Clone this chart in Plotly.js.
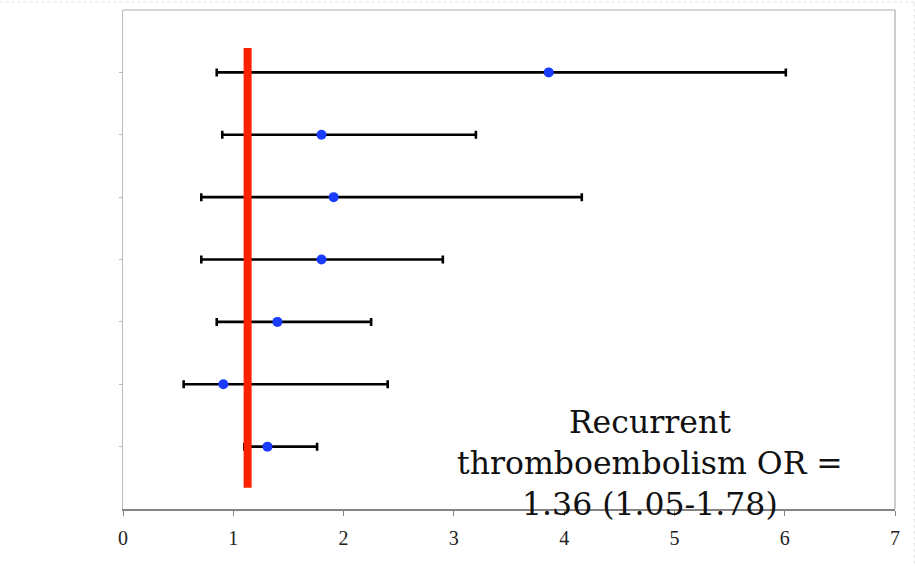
<!DOCTYPE html>
<html>
<head>
<meta charset="utf-8">
<script src="https://cdn.plot.ly/plotly-3.0.1.min.js"></script>
<style>html,body{margin:0;padding:0;background:#fff;}#chart{width:915px;height:566px;}</style>
</head>
<body>
<div id="chart"></div>
<script>
// Study rows, top to bottom
const rows = [1, 2, 3, 4, 5, 6, 7];
const oddsRatio = [3.86, 1.80, 1.91, 1.80, 1.40, 0.91, 1.31];
const ciLow = [0.85, 0.90, 0.71, 0.71, 0.85, 0.55, 1.10];
const ciHigh = [6.01, 3.20, 4.16, 2.90, 2.25, 2.40, 1.76];

// Red reference line
const refLineX = [1.13, 1.13];
const refLineY = [0.61, 7.66];

const xTicks = [0, 1, 2, 3, 4, 5, 6, 7];
const annotationText = "Recurrent<br>thromboembolism OR =<br>1.36 (1.05-1.78)";

const errPlus = ciHigh.map((h, i) => h - oddsRatio[i]);
const errMinus = ciLow.map((l, i) => oddsRatio[i] - l);

const traces = [
  {
    type: 'scatter', mode: 'markers',
    x: oddsRatio, y: rows,
    marker: {color: '#1a3cff', size: 10},
    error_x: {type: 'data', array: errPlus, arrayminus: errMinus, symmetric: false,
              color: '#000', thickness: 2.6, width: 4},
    hoverinfo: 'x', showlegend: false
  },
  {
    type: 'scatter', mode: 'lines',
    x: refLineX, y: refLineY,
    line: {color: '#ff2200', width: 8},
    hoverinfo: 'skip', showlegend: false
  }
];

const layout = {
  width: 915, height: 566,
  margin: {l: 123, r: 20, t: 10, b: 57},
  paper_bgcolor: '#fff', plot_bgcolor: '#fff',
  showlegend: false,
  xaxis: {
    range: [0, 7], tickvals: xTicks, ticktext: xTicks.map(String),
    showgrid: false, zeroline: false,
    showline: true, linecolor: '#858585', linewidth: 1.5,
    ticks: 'outside', ticklen: 5, tickcolor: '#858585', tickwidth: 1,
    ticklabelstandoff: 5,
    tickfont: {family: 'Liberation Serif, Times New Roman, serif', size: 20, color: '#222'},
    mirror: false
  },
  yaxis: {
    range: [8, 0], tickvals: rows, showticklabels: false,
    showgrid: false, zeroline: false,
    showline: true, linecolor: '#bbb', linewidth: 1.5,
    ticks: 'outside', ticklen: 3, tickcolor: '#bbb', tickwidth: 1
  },
  shapes: [
    {type: 'line', xref: 'paper', yref: 'paper', x0: 0, x1: 1, y0: 1, y1: 1,
     line: {color: '#c8c8c8', width: 1.5}},
    {type: 'line', xref: 'paper', yref: 'paper', x0: 1, x1: 1, y0: 0, y1: 1,
     line: {color: '#bbb', width: 1.5}},
    {type: 'line', xref: 'paper', yref: 'paper', x0: -0.16, x1: 1.025, y0: 1.016, y1: 1.016,
     line: {color: '#e2e2e2', width: 1, dash: 'dot'}},
    {type: 'line', xref: 'paper', yref: 'paper', x0: 1.025, x1: 1.025, y0: -0.11, y1: 1.016,
     line: {color: '#e2e2e2', width: 1, dash: 'dot'}}
  ],
  annotations: [{
    xref: 'x', yref: 'y', x: 4.78, y: 7.27,
    xanchor: 'center', yanchor: 'middle',
    text: annotationText, showarrow: false, align: 'center',
    font: {family: 'DejaVu Serif, serif', size: 31.5, color: '#111'}
  }]
};

Plotly.newPlot('chart', traces, layout, {displayModeBar: false, staticPlot: true});
</script>
</body>
</html>
